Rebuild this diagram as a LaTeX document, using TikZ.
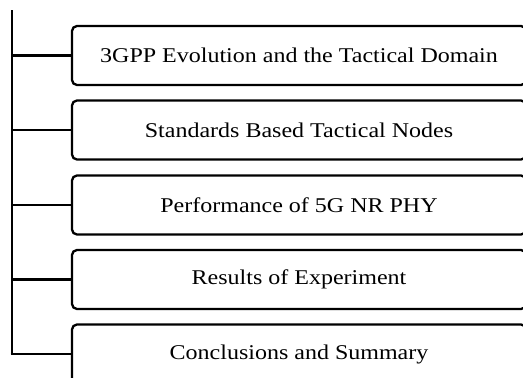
\documentclass[tikz,border=0pt]{standalone}
\usepackage{fontspec}
\setmainfont{Liberation Serif}
\begin{document}
\begin{tikzpicture}[x=1pt,y=-1pt,
  topic/.style={draw=black, line width=2.3pt, rounded corners=5pt,
    minimum width=454pt, minimum height=59pt, inner sep=0pt,
    font=\fontsize{24}{26}\selectfont},
  link/.style={draw=black, line width=2.3pt}]
\useasboundingbox (0,0) rectangle (523,378);
\newcommand{\tx}[1]{\scalebox{1}[0.875]{#1}}
\node[topic] (b1) at (299,55.5) {\tx{3GPP Evolution and the Tactical Domain}};
\node[topic] (b2) at (299,130) {\tx{Standards Based Tactical Nodes}};
\node[topic] (b3) at (299,205) {\tx{Performance of 5G NR PHY}};
\node[topic] (b4) at (299,279.5) {\tx{Results of Experiment}};
\node[topic] (b5) at (299,354) {\tx{Conclusions and Summary}};
\coordinate (top) at (12,10);
\coordinate (c1) at (12,55.5);
\coordinate (c2) at (12,130);
\coordinate (c3) at (12,205);
\coordinate (c4) at (12,279.5);
\coordinate (c5) at (12,354);
\draw[link, line width=2.8pt] (top) -- (c5);
\draw[link] (c1) -- (b1.west);
\draw[link] (c2) -- (b2.west);
\draw[link] (c3) -- (b3.west);
\draw[link] (c4) -- (b4.west);
\draw[link] ([xshift=-1.4pt]c5) -- (b5.west);
\end{tikzpicture}
\end{document}
